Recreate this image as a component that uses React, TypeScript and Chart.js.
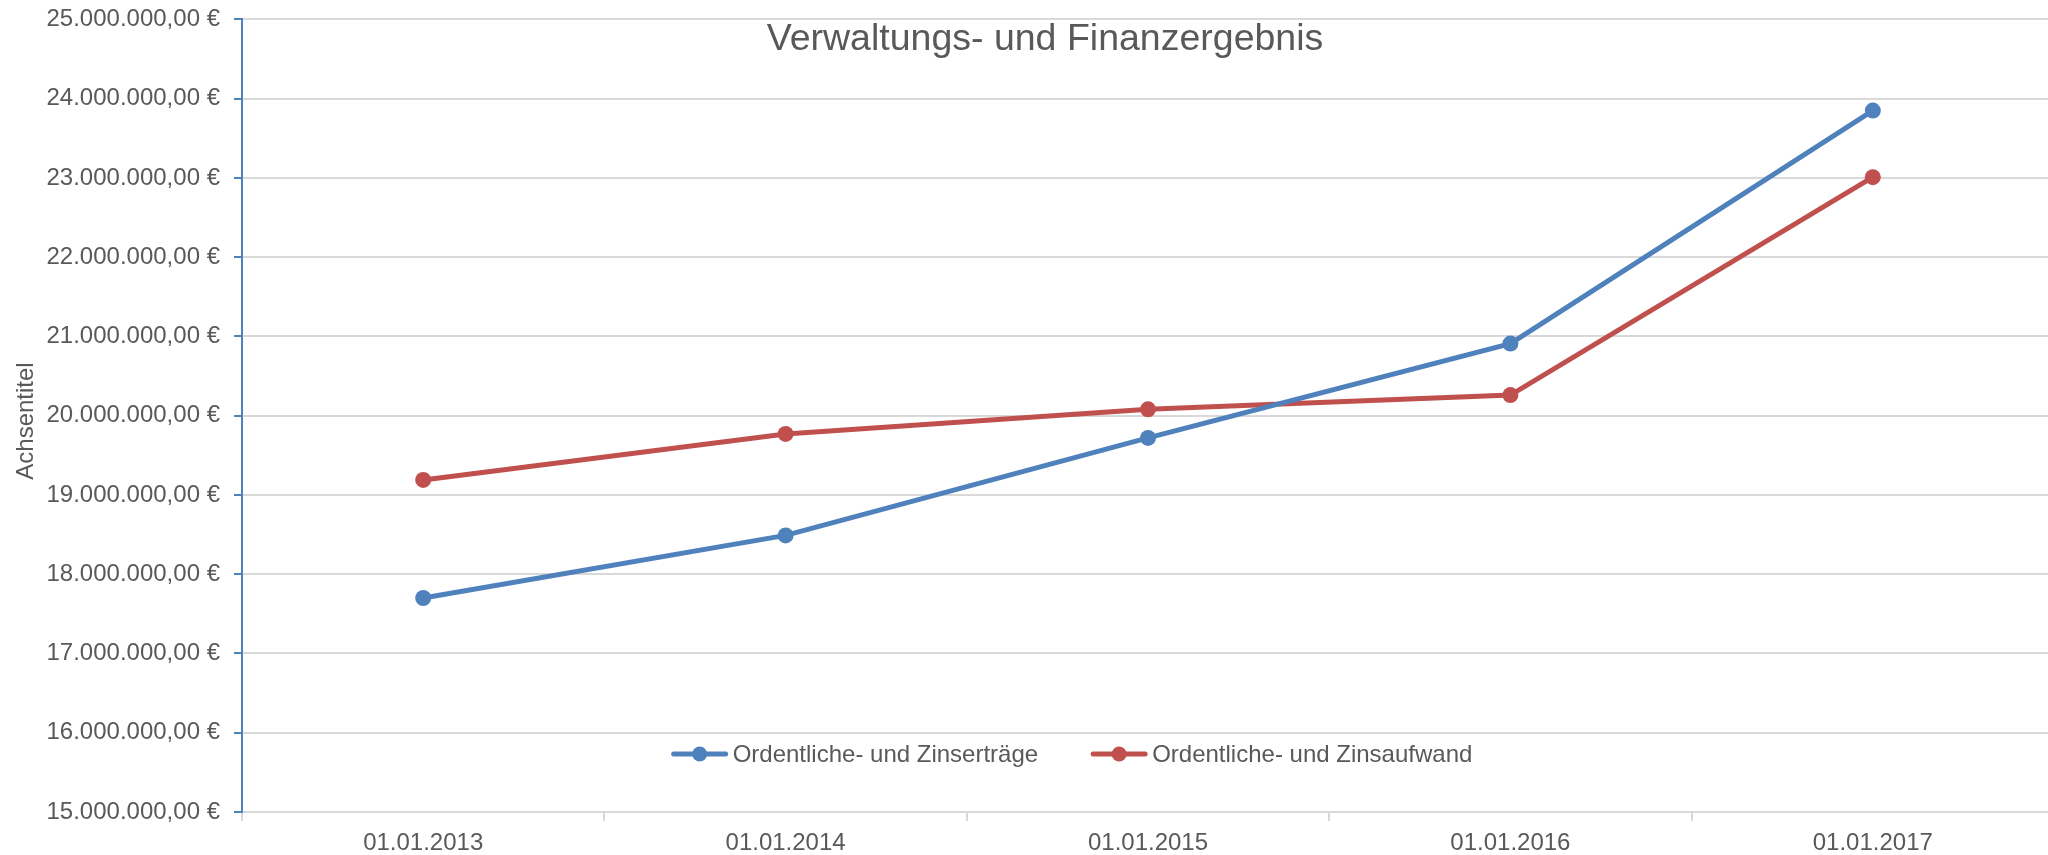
import React, { useEffect, useRef } from "react";
import { Chart, registerables } from "chart.js";

Chart.register(...registerables);

const categories = ["01.01.2013", "01.01.2014", "01.01.2015", "01.01.2016", "01.01.2017"];
const seriesNames = ["Ordentliche- und Zinserträge", "Ordentliche- und Zinsaufwand"];
const ertraege = [17700000, 18490000, 19720000, 20910000, 23850000];
const aufwand = [19190000, 19770000, 20080000, 20260000, 23010000];
const yMin = 15000000;
const yMax = 25000000;
const yStep = 1000000;
const chartTitle = "Verwaltungs- und Finanzergebnis";
const yAxisTitle = "Achsentitel";

const BLUE = "#4F81BD";
const RED = "#C0504D";
const TEXT = "#595959";
const GRID = "#D9D9D9";
const FONT = "'Liberation Sans', Arial, sans-serif";

// canvas is shifted up by SHIFT_Y so the plot top meets the page top region
const SHIFT_Y = 9;
const CANVAS_W = 2062;
const CANVAS_H = 855 + SHIFT_Y;

function fmtEuro(v: number): string {
  const s = Math.round(v).toString().replace(/\B(?=(\d{3})+(?!\d))/g, ".");
  return s + ",00 €";
}

const titlePlugin = {
  id: "customTitle",
  afterDraw(chart: any) {
    const ctx = chart.ctx;
    ctx.save();
    ctx.font = `37.5px ${FONT}`;
    ctx.fillStyle = TEXT;
    ctx.textAlign = "center";
    ctx.textBaseline = "middle";
    ctx.fillText(chartTitle, 1045, 40 + SHIFT_Y);
    // y axis title
    ctx.translate(26, 421 + SHIFT_Y);
    ctx.rotate(-Math.PI / 2);
    ctx.font = `24px ${FONT}`;
    ctx.fillText(yAxisTitle, 0, 0);
    ctx.restore();
  },
};

const legendPlugin = {
  id: "customLegend",
  afterDraw(chart: any) {
    const ctx = chart.ctx;
    const ds = chart.data.datasets;
    ctx.save();
    ctx.font = `24px ${FONT}`;
    const lineLen = 56;
    const gapText = 5;
    const gapItem = 53;
    const widths = ds.map((d: any) => ctx.measureText(d.label).width);
    let total = 0;
    widths.forEach((w: number, i: number) => {
      total += lineLen + gapText + w + (i < widths.length - 1 ? gapItem : 0);
    });
    let x = 1072 - total / 2;
    const y = 754 + SHIFT_Y;
    ds.forEach((d: any, i: number) => {
      ctx.strokeStyle = d.borderColor;
      ctx.lineWidth = 5;
      ctx.lineCap = "round";
      ctx.beginPath();
      ctx.moveTo(x + 2, y);
      ctx.lineTo(x + lineLen - 2, y);
      ctx.stroke();
      ctx.fillStyle = d.borderColor;
      ctx.beginPath();
      ctx.arc(x + lineLen / 2, y, 7.5, 0, Math.PI * 2);
      ctx.fill();
      ctx.fillStyle = TEXT;
      ctx.textAlign = "left";
      ctx.textBaseline = "middle";
      ctx.fillText(d.label, x + lineLen + gapText, y + 1);
      x += lineLen + gapText + widths[i] + gapItem;
    });
    ctx.restore();
  },
};

export default function App() {
  const ref = useRef<HTMLCanvasElement | null>(null);

  useEffect(() => {
    if (!ref.current) return;
    const chart = new Chart(ref.current, {
      type: "line",
      data: {
        labels: categories,
        datasets: [
          {
            label: seriesNames[0],
            data: ertraege,
            borderColor: BLUE,
            backgroundColor: BLUE,
            pointBackgroundColor: BLUE,
            pointBorderWidth: 0,
            pointRadius: 8,
            borderWidth: 5,
            tension: 0,
          },
          {
            label: seriesNames[1],
            data: aufwand,
            borderColor: RED,
            backgroundColor: RED,
            pointBackgroundColor: RED,
            pointBorderWidth: 0,
            pointRadius: 8,
            borderWidth: 5,
            tension: 0,
          },
        ],
      },
      options: {
        animation: false,
        responsive: false,
        layout: { padding: { top: 0, right: 0, bottom: 0, left: 0 } },
        plugins: {
          legend: { display: false },
          title: { display: false },
          tooltip: { enabled: false },
        },
        scales: {
          x: {
            offset: true,
            grid: {
              display: true,
              offset: true,
              drawOnChartArea: false,
              drawTicks: true,
              tickLength: 9,
              color: GRID,
              tickColor: GRID,
              lineWidth: 2,
            },
            border: { display: true, color: GRID, width: 2 },
            ticks: {
              color: TEXT,
              font: { family: FONT, size: 24 },
              padding: 8,
              maxRotation: 0,
            },
            afterFit: (s: any) => {
              s.height = 43;
            },
          },
          y: {
            min: yMin,
            max: yMax,
            grid: {
              color: GRID,
              lineWidth: 2,
              drawTicks: true,
              tickLength: 8,
              tickColor: BLUE,
            },
            border: { display: true, color: BLUE, width: 2 },
            ticks: {
              stepSize: yStep,
              color: TEXT,
              font: { family: FONT, size: 24 },
              padding: 14,
              callback: (v: any) => fmtEuro(Number(v)),
            },
            title: { display: false },
            afterFit: (s: any) => {
              s.width = 242;
            },
          },
        },
      },
      plugins: [titlePlugin, legendPlugin],
    });
    return () => chart.destroy();
  }, []);

  return (
    <div style={{ position: "fixed", left: 0, top: 0, width: 2048, height: 855, overflow: "hidden", background: "#fff" }}>
      <canvas
        ref={ref}
        width={CANVAS_W}
        height={CANVAS_H}
        style={{ display: "block", position: "absolute", left: 0, top: -SHIFT_Y, width: CANVAS_W, height: CANVAS_H }}
      />
    </div>
  );
}
